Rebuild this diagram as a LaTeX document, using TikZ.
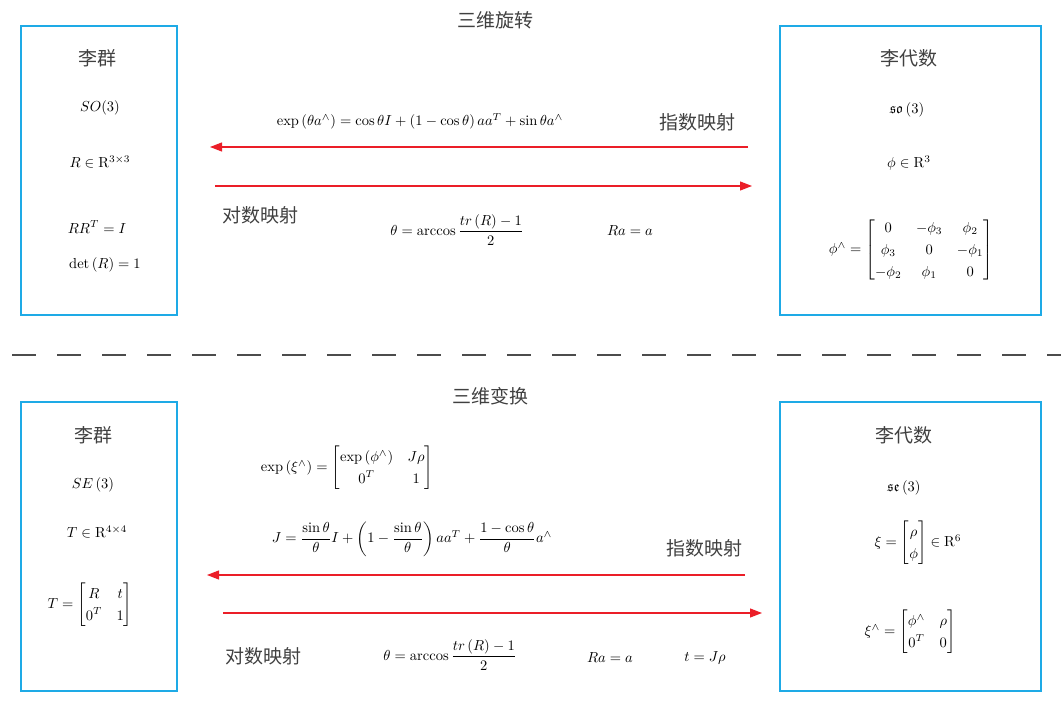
\documentclass[tikz,border=0pt]{standalone}
\usepackage{amsmath,amssymb,graphicx}
\usepackage{fontspec}
\newfontfamily\cjk{Noto Sans CJK SC}
\usetikzlibrary{arrows.meta}
\definecolor{boxblue}{RGB}{30,170,230}
\definecolor{arrred}{RGB}{235,30,40}
\newcommand{\MM}[1]{\scalebox{1.45}{\renewcommand{\arraystretch}{1.25}$#1$}}
\begin{document}
\begin{tikzpicture}[x=1pt,y=-1pt,
  box/.style={draw=boxblue,line width=1.8pt},
  zh/.style={font=\cjk\fontsize{19}{22}\selectfont,text=black!75},
  m/.style={inner sep=1pt},
  arr/.style={draw=arrred,line width=1.2pt,-{Triangle[length=12pt,width=9pt]}}]
\useasboundingbox (0,0) rectangle (1061,703);
% boxes
\node[box,minimum width=156,minimum height=289,inner sep=0,anchor=north west] (b1) at (20,25) {};
\node[box,minimum width=261,minimum height=289,inner sep=0,anchor=north west] (b2) at (779,25) {};
\node[box,minimum width=156,minimum height=289,inner sep=0,anchor=north west] (b3) at (20,401) {};
\node[box,minimum width=261,minimum height=289,inner sep=0,anchor=north west] (b4) at (779,401) {};
% dashed separator
\coordinate (d1) at (0,355); \coordinate (d2) at (1061,355);
\draw[black!70,line width=1.3pt,dash pattern=on 24pt off 21pt,dash phase=-12pt] (d1) -- (d2);
% top section
\node[zh] (t1) at (495,20) {三维旋转};
\node[zh] (l1) at (97,58) {李群};
\node[m] (l2) at (100,108) {\MM{SO(3)}};
\node[m] (l3) at (100,162) {\MM{R\in\mathrm{R}^{3\times3}}};
\node[m] (l4) at (97,227) {\MM{RR^T=I}};
\node[m] (l5) at (105,265) {\MM{\det\left(R\right)=1}};
\node[zh] (r1) at (909,58) {李代数};
\node[m] (r2) at (907,110) {\MM{\mathfrak{so}\left(3\right)}};
\node[m] (r3) at (909,163) {\MM{\phi\in\mathrm{R}^3}};
\node[m] (r4) at (911,250) {\MM{\phi^\wedge=\begin{bmatrix}0&-\phi_3&\phi_2\\ \phi_3&0&-\phi_1\\ -\phi_2&\phi_1&0\end{bmatrix}}};
\node[m] (e1) at (420,121) {\MM{\exp\left(\theta a^\wedge\right)=\cos\theta I+\left(1-\cos\theta\right)aa^T+\sin\theta a^\wedge}};
\node[zh] (z1) at (697,122) {指数映射};
\node[zh] (z2) at (260,215) {对数映射};
\node[m] (e2) at (457,230) {\MM{\theta=\arccos\dfrac{tr\left(R\right)-1}{2}}};
\node[m] (e3) at (630,231) {\MM{Ra=a}};
\coordinate (a1s) at (748,147); \coordinate (a1e) at (210,147);
\coordinate (a2s) at (215,186); \coordinate (a2e) at (752,186);
\draw[arr] (a1s) -- (a1e);
\draw[arr] (a2s) -- (a2e);
% bottom section
\node[zh] (t2) at (490,396) {三维变换};
\node[zh] (L1) at (93,435) {李群};
\node[m] (L2) at (93,485) {\MM{SE\left(3\right)}};
\node[m] (L3) at (97,532) {\MM{T\in\mathrm{R}^{4\times4}}};
\node[m] (L4) at (90,605) {\MM{T=\begin{bmatrix}R&t\\ 0^T&1\end{bmatrix}}};
\node[zh] (R1) at (904,435) {李代数};
\node[m] (R2) at (904,488) {\MM{\mathfrak{se}\left(3\right)}};
\node[m] (R3) at (918,543) {\MM{\xi=\begin{bmatrix}\rho\\ \phi\end{bmatrix}\in\mathrm{R}^6}};
\node[m] (R4) at (910,632) {\MM{\xi^\wedge=\begin{bmatrix}\phi^\wedge&\rho\\ 0^T&0\end{bmatrix}}};
\node[m] (E1) at (347,468) {\MM{\exp\left(\xi^\wedge\right)=\begin{bmatrix}\exp\left(\phi^\wedge\right)&J\rho\\ 0^T&1\end{bmatrix}}};
\node[m] (E2) at (412,539) {\MM{J=\dfrac{\sin\theta}{\theta}I+\left(1-\dfrac{\sin\theta}{\theta}\right)aa^T+\dfrac{1-\cos\theta}{\theta}a^\wedge}};
\node[zh] (Z1) at (704,548) {指数映射};
\node[zh] (Z2) at (263,656) {对数映射};
\node[m] (E3) at (450,655) {\MM{\theta=\arccos\dfrac{tr\left(R\right)-1}{2}}};
\node[m] (E4) at (610,658) {\MM{Ra=a}};
\node[m] (E5) at (705,658) {\MM{t=J\rho}};
\coordinate (b1s) at (745,575); \coordinate (b1e) at (207,575);
\coordinate (b2s) at (223,613); \coordinate (b2e) at (762,613);
\draw[arr] (b1s) -- (b1e);
\draw[arr] (b2s) -- (b2e);
\end{tikzpicture}
\end{document}
